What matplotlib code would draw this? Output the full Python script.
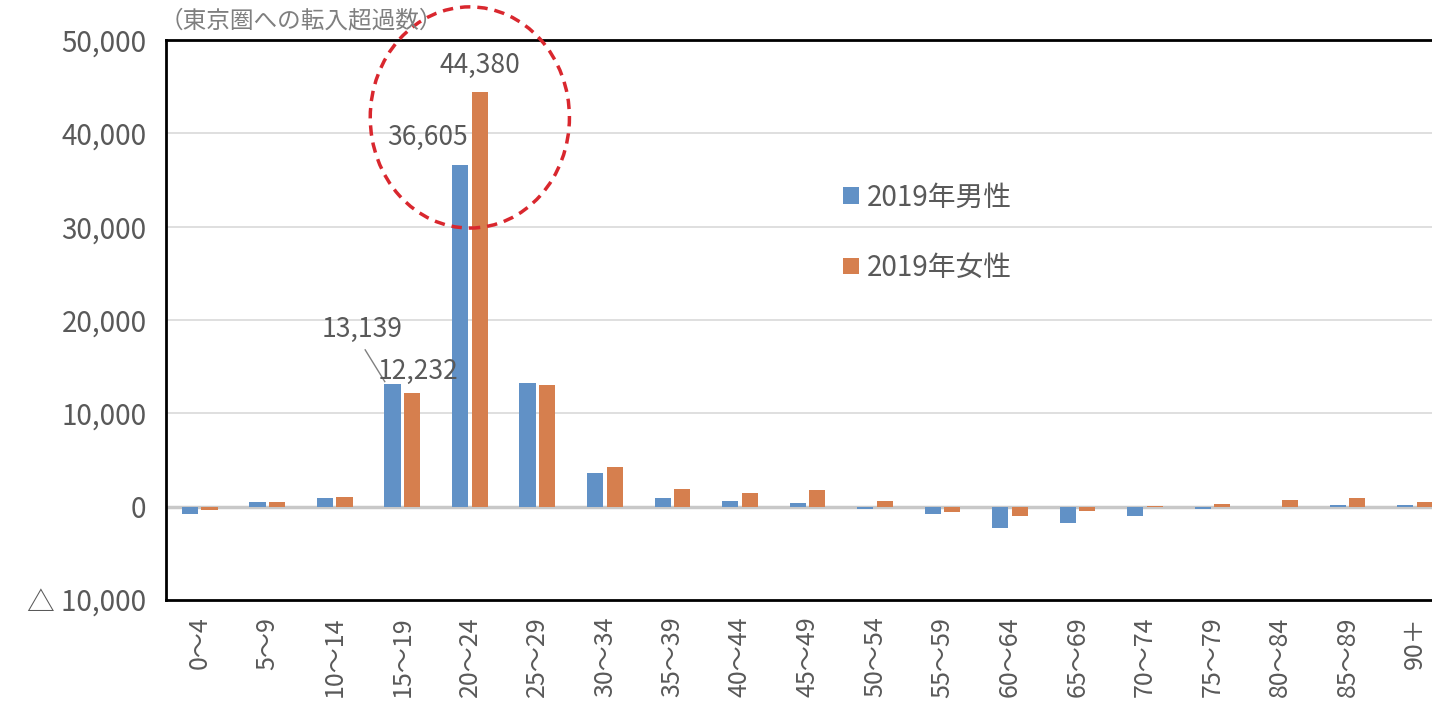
import matplotlib.pyplot as plt
import numpy as np
from matplotlib.patches import Ellipse

plt.rcParams['font.family'] = ['Noto Sans CJK JP', 'DejaVu Sans']

# Data
age_groups = ['0～4', '5～9', '10～14', '15～19', '20～24', '25～29', '30～34', '35～39',
              '40～44', '45～49', '50～54', '55～59', '60～64', '65～69', '70～74',
              '75～79', '80～84', '85～89', '90＋']
male_2019 = [-800, 500, 900, 13139, 36605, 13300, 3600, 900, 600, 400,
             -300, -800, -2250, -1800, -1000, -300, 0, 150, 150]
female_2019 = [-400, 450, 1000, 12232, 44380, 13000, 4300, 1900, 1500, 1750,
               600, -600, -950, -500, 50, 300, 750, 950, 500]
y_ticks = [-10000, 0, 10000, 20000, 30000, 40000, 50000]
y_tick_labels = ['△ 10,000', '0', '10,000', '20,000', '30,000', '40,000', '50,000']

blue = '#6191c6'
orange = '#d67f4e'
gray_text = '#595959'

fig = plt.figure(figsize=(14.32, 7.16), dpi=100)
ax = fig.add_axes([166 / 1432, 1 - 600 / 716, 1 - 166 / 1432, (600 - 40) / 716])

x = np.arange(len(age_groups))
bar_width = 0.24
offset = 0.145

ax.bar(x - offset, male_2019, bar_width, color=blue, label='2019年男性', zorder=3)
ax.bar(x + offset, female_2019, bar_width, color=orange, label='2019年女性', zorder=3)

ax.set_xlim(-0.5, 18.25)
ax.set_ylim(-10000, 50000)
ax.set_yticks(y_ticks)
ax.set_yticklabels(y_tick_labels, fontsize=20, color=gray_text)
ax.set_xticks(x)
ax.set_xticklabels(age_groups, rotation=90, fontsize=18, color=gray_text)
ax.tick_params(length=0)
ax.tick_params(axis='y', pad=14)
ax.tick_params(axis='x', pad=12)

# grid lines
for t in y_ticks[2:-1]:
    ax.axhline(t, color='#d9d9d9', lw=1.2, zorder=1)
ax.axhline(0, color='#c8c8c8', lw=2.5, zorder=2)

for side in ['left', 'top', 'bottom']:
    ax.spines[side].set_linewidth(2)
    ax.spines[side].set_color('black')
ax.spines['right'].set_visible(False)

# value labels
ax.text(4 + offset, 47300, '44,380', ha='center', va='center', fontsize=19, color=gray_text)
ax.text(3.38, 39600, '36,605', ha='center', va='center', fontsize=19, color=gray_text)
ax.text(2.40, 18950, '13,139', ha='center', va='center', fontsize=19, color=gray_text)
ax.text(3.23, 14450, '12,232', ha='center', va='center', fontsize=19, color=gray_text)
ax.plot([2.45, 2.74], [16800, 13400], color='#808080', lw=1)

# highlight circle
circle = Ellipse((4.0, 41700), width=2.95, height=23700, fill=False,
                 edgecolor='#d9272e', lw=2.5, linestyle=(0, (3, 2)), clip_on=False, zorder=5)
ax.add_patch(circle)

ax.legend(loc='center left', bbox_to_anchor=(0.535, 0.656), frameon=False, fontsize=20,
          labelcolor=gray_text, handlelength=0.55, handleheight=0.55, handletextpad=0.3,
          labelspacing=1.45, borderpad=0, borderaxespad=0)

fig.text(160 / 1432, 1 - 21 / 716, '（東京圏への転入超過数）', fontsize=17, color='#7f7f7f',
         ha='left', va='center')

fig.savefig('out.png', dpi=100)
